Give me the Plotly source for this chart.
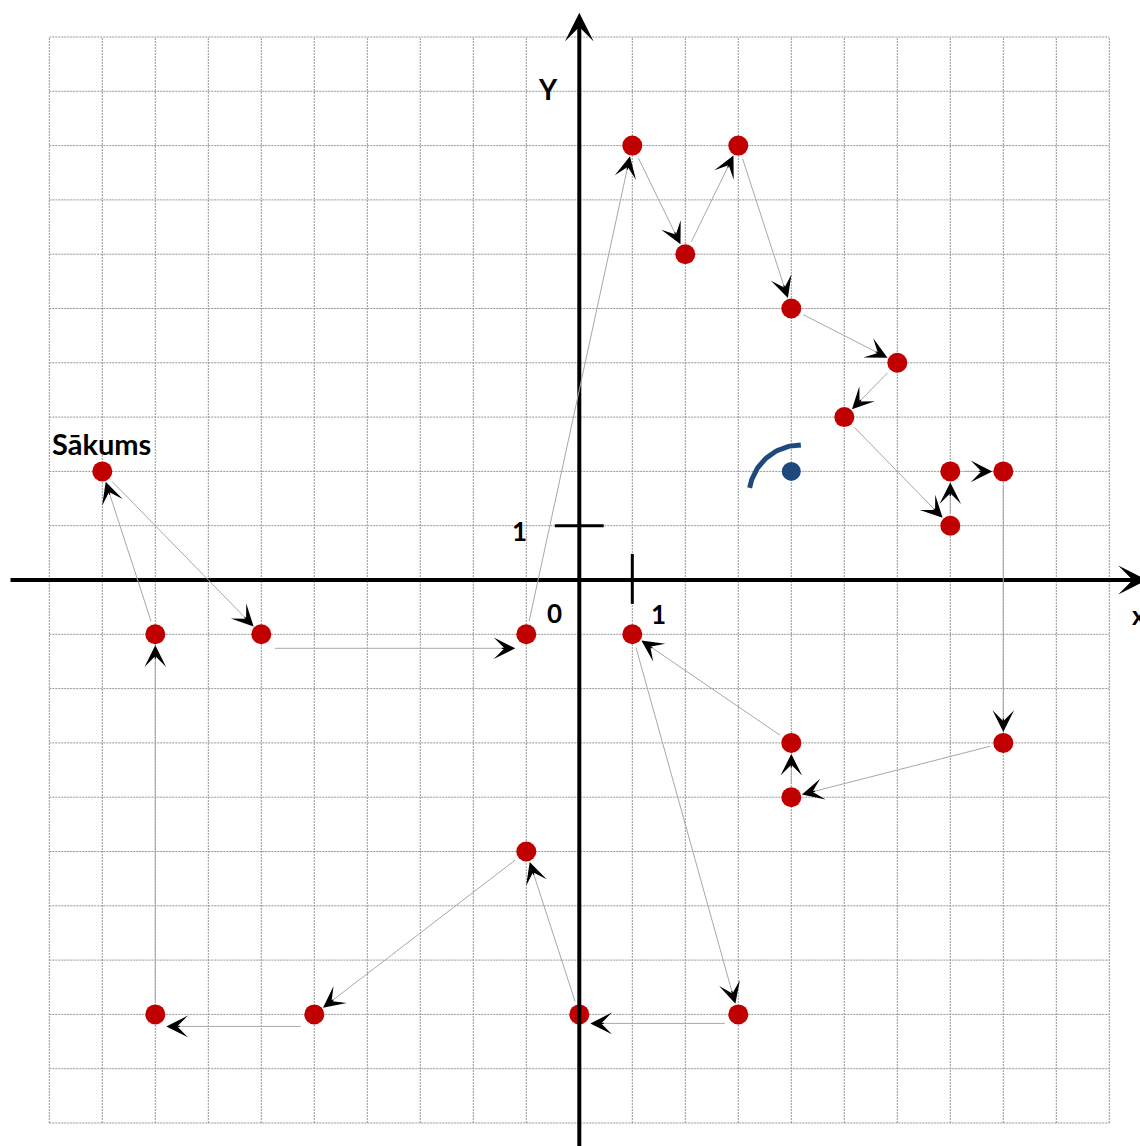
import numpy as np
import plotly.graph_objects as go

# ---- data ----
path_x = [-9, -6, -1, 1, 2, 3, 4, 6, 5, 7, 7, 8, 8, 4, 4, 1, 3, 0, -1, -5, -8, -8, -9]
path_y = [2, -1, -1, 8, 6, 8, 5, 4, 3, 1, 2, 2, -3, -4, -3, -1, -8, -8, -5, -8, -8, -1, 2]
blue_x = [4]
blue_y = [2]
grid_values = list(range(-10, 11))
start_label = "Sākums"

# ---- style ----
PX_X, PX_Y = 53.0, 54.3           # pixels per unit
XR = [-579.3 / PX_X, (1140 - 579.3) / PX_X]
YR = [(580 - 1146) / PX_Y, 580 / PX_Y]
RED = "#C00000"
BLUE = "#1F497D"
seg_shift = {1: -14, 16: -9, 19: -12}   # small vertical pixel offsets of some connectors
FONT = "Lato"

fig = go.Figure()

# grid
shapes = []
for g in grid_values:
    shapes.append(dict(type="line", xref="x", yref="y", x0=g, x1=g, y0=-10, y1=10,
                       line=dict(color="#959595", width=1, dash="2px,1px"), layer="below"))
    shapes.append(dict(type="line", xref="x", yref="y", x0=-10, x1=10, y0=g, y1=g,
                       line=dict(color="#959595", width=1, dash="2px,1px"), layer="below"))
# tick marks at 1
shapes.append(dict(type="line", xref="x", yref="y", x0=1, x1=1, y0=-0.44, y1=0.48,
                   line=dict(color="black", width=3)))
shapes.append(dict(type="line", xref="x", yref="y", x0=-0.46, x1=0.46, y0=1, y1=1,
                   line=dict(color="black", width=3)))
fig.update_layout(shapes=shapes)

# blue arc near the blue point
arc_c = (4.18, 1.53)
arc_r = 52.0
t = np.linspace(np.pi / 2, np.pi * 170 / 180, 40)
fig.add_trace(go.Scatter(x=arc_c[0] + arc_r * np.cos(t) / PX_X,
                         y=arc_c[1] + arc_r * np.sin(t) / PX_Y,
                         mode="lines", line=dict(color=BLUE, width=5), hoverinfo="skip"))

# points
fig.add_trace(go.Scatter(x=path_x[:-1], y=path_y[:-1], mode="markers",
                         marker=dict(color=RED, size=20, line=dict(width=0)), hoverinfo="skip"))
fig.add_trace(go.Scatter(x=blue_x, y=blue_y, mode="markers",
                         marker=dict(color=BLUE, size=19, line=dict(width=0)), hoverinfo="skip"))

ann = []
# axes arrows
ann.append(dict(x=(1147 - 579.3) / PX_X, y=0, ax=(9 - 579.3) / PX_X, ay=0, xref="x", yref="y",
                axref="x", ayref="y", text="", showarrow=True, arrowhead=3, arrowsize=1.2,
                arrowwidth=4, arrowcolor="black"))
ann.append(dict(x=0, y=(580 - 12.7) / PX_Y, ax=0, ay=-10.6, xref="x", yref="y",
                axref="x", ayref="y", text="", showarrow=True, arrowhead=3, arrowsize=1.2,
                arrowwidth=4, arrowcolor="black"))

# connectors
for i in range(len(path_x) - 1):
    x0, y0, x1, y1 = path_x[i], path_y[i], path_x[i + 1], path_y[i + 1]
    ys = seg_shift.get(i, 0)
    ann.append(dict(x=x1, y=y1, ax=x0, ay=y0, xref="x", yref="y", axref="x", ayref="y",
                    text="", showarrow=True, arrowhead=0, arrowwidth=1, arrowcolor="#a8a8a8",
                    standoff=24, startstandoff=12, yshift=ys))
    dxp = (x1 - x0) * PX_X
    dyp = (y1 - y0) * PX_Y
    n = np.hypot(dxp, dyp)
    L = 42.0
    ann.append(dict(x=x1, y=y1, ax=-dxp / n * L, ay=dyp / n * L, xref="x", yref="y",
                    text="", showarrow=True, arrowhead=3, arrowsize=3.0, arrowwidth=1.2,
                    arrowcolor="black", standoff=11, startstandoff=16, yshift=ys))

# labels
lab = dict(family=FONT, size=26, color="black")
ann.append(dict(x=-9.02, y=2.52, text="<b>" + start_label + "</b>", showarrow=False,
                font=dict(family=FONT, size=29, color="black")))
ann.append(dict(x=-0.59, y=9.04, text="<b>Y</b>", showarrow=False,
                font=dict(family=FONT, size=28, color="black")))
ann.append(dict(x=-0.46, y=-0.61, text="<b>0</b>", showarrow=False, font=lab))
ann.append(dict(x=1.5, y=-0.63, text="<b>1</b>", showarrow=False, font=lab))
ann.append(dict(x=-1.12, y=0.9, text="<b>1</b>", showarrow=False, font=lab))
ann.append(dict(x=(1130 - 579.3) / PX_X, y=-0.64, text="<b>x</b>", showarrow=False, font=lab,
                xanchor="left"))
fig.update_layout(annotations=ann)

fig.update_xaxes(range=XR, visible=False, showgrid=False, zeroline=False)
fig.update_yaxes(range=YR, visible=False, showgrid=False, zeroline=False)
fig.update_layout(width=1140, height=1146, margin=dict(l=0, r=0, t=0, b=0),
                  plot_bgcolor="white", paper_bgcolor="white", showlegend=False)

fig.write_html("out.html", config={"displayModeBar": False},
               post_script="document.body.style.margin='0';")
